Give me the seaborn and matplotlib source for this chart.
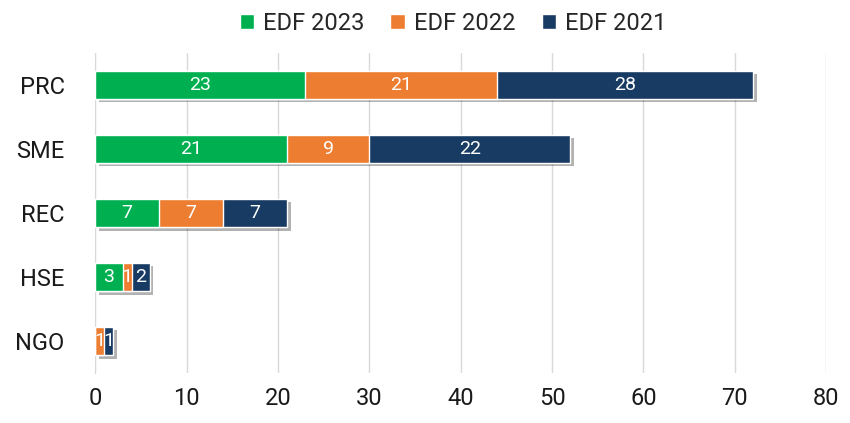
import pandas as pd
import seaborn as sns
import matplotlib.pyplot as plt
import matplotlib.patheffects as pe
from matplotlib.patches import Patch

# data
categories = ["PRC", "SME", "REC", "HSE", "NGO"]
edf_2023 = [23, 21, 7, 3, 0]
edf_2022 = [21, 9, 7, 1, 1]
edf_2021 = [28, 22, 7, 2, 1]

colors = {"EDF 2023": "#00B050", "EDF 2022": "#ED7D31", "EDF 2021": "#173B63"}

df = pd.DataFrame({"cat": categories, "EDF 2023": edf_2023,
                   "EDF 2022": edf_2022, "EDF 2021": edf_2021})
df["c1"] = df["EDF 2023"]
df["c2"] = df["c1"] + df["EDF 2022"]
df["c3"] = df["c2"] + df["EDF 2021"]

sns.set_style("white")
plt.rcParams["font.family"] = ["Roboto", "DejaVu Sans"]

fig = plt.figure(figsize=(8.5, 4.23), dpi=100)
ax = fig.add_axes([0.112, 0.118, 0.86, 0.757])

shadow = [pe.SimplePatchShadow(offset=(2.5, -2.5), shadow_rgbFace="black", alpha=0.3), pe.Normal()]

# stacked by drawing cumulative totals back to front
sns.barplot(data=df, y="cat", x="c3", color=colors["EDF 2021"], width=0.44, saturation=1,
            edgecolor="white", linewidth=1, orient="h", ax=ax, zorder=3)
for p in ax.patches:
    p.set_path_effects(shadow)
sns.barplot(data=df, y="cat", x="c2", color=colors["EDF 2022"], width=0.44, saturation=1,
            edgecolor="white", linewidth=1, orient="h", ax=ax, zorder=4)
sns.barplot(data=df, y="cat", x="c1", color=colors["EDF 2023"], width=0.44, saturation=1,
            edgecolor="white", linewidth=1, orient="h", ax=ax, zorder=5)

# value labels in the middle of each segment
for i, row in df.iterrows():
    starts = [0, row["c1"], row["c2"]]
    vals = [row["EDF 2023"], row["EDF 2022"], row["EDF 2021"]]
    for s, v in zip(starts, vals):
        if v > 0:
            ax.text(s + v / 2, i, str(v), ha="center", va="center",
                    color="white", fontsize=14, zorder=6)

ax.set_xlim(0, 80)
ax.set_xticks(range(0, 81, 10))
ax.set_xlabel("")
ax.set_ylabel("")
ax.grid(axis="x", color="#D9D9D9", linewidth=1, zorder=0)
ax.set_axisbelow(True)
for s in ["top", "right", "bottom"]:
    ax.spines[s].set_visible(False)
ax.spines["left"].set_color("#D9D9D9")
ax.tick_params(axis="both", length=0, labelsize=17, colors="#1a1a1a")
ax.tick_params(axis="y", pad=22)
ax.tick_params(axis="x", pad=10)

handles = [Patch(facecolor=colors[k], label=k) for k in ["EDF 2023", "EDF 2022", "EDF 2021"]]
fig.legend(handles=handles, loc="upper center", bbox_to_anchor=(0.533, 1.022), ncol=3,
           frameon=False, fontsize=17, handlelength=0.6, handleheight=0.6,
           handletextpad=0.4, columnspacing=1.1)

fig.savefig("out.png", dpi=100)
